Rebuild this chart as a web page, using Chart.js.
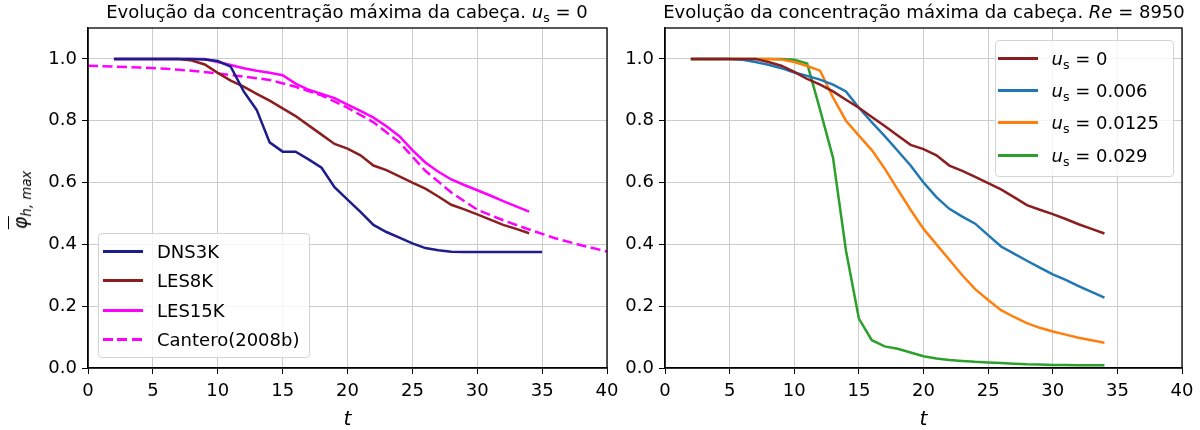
<!DOCTYPE html>
<html>
<head>
<meta charset="utf-8">
<script src="https://cdn.jsdelivr.net/npm/chart.js@4"></script>
<style>
  body { margin: 0; background: #fff; font-family: "DejaVu Sans", sans-serif; color: #000; }
  #wrap { position: relative; width: 1200px; height: 430px; overflow: hidden; }
  .pane { position: absolute; top: 0; height: 430px; }
  .title { position: absolute; top: 1px; font-size: 18px; line-height: 22px; white-space: nowrap; transform: translateX(-50%); }
  .legend { position: absolute; border: 1px solid #d4d4d4; border-radius: 4px; background: rgba(255,255,255,0.8); font-size: 18px; }
  .legend .row { display: flex; align-items: center; white-space: nowrap; }
  .legend .sw { display: inline-block; width: 40px; height: 3px; margin-right: 14px; }
  sub { font-size: 70%; vertical-align: -0.3em; line-height: 0; }
  #ylab { position: absolute; left: 20px; top: 200px; font-size: 19px; white-space: nowrap; transform: translate(-50%, -50%) rotate(-90deg); }
</style>
</head>
<body>
<div id="wrap">
  <div class="pane" style="left:0;width:620px"><canvas id="left"></canvas></div>
  <div class="pane" style="left:620px;width:580px"><canvas id="right"></canvas></div>

  <div class="title" style="left:347px">Evolução da concentração máxima da cabeça. <i>u</i><sub>s</sub> = 0</div>
  <div class="title" style="left:924px">Evolução da concentração máxima da cabeça. <i>Re</i> = 8950</div>

  <div id="ylab"><i><span style="border-top:1.5px solid #000">φ</span><sub>h, max</sub></i></div>

  <div class="legend" style="left:98px;top:233px;padding:3px 10px 3px 4px">
    <div class="row" style="height:29.3px"><span class="sw" style="background:#1c1c8c"></span>DNS3K</div>
    <div class="row" style="height:29.3px"><span class="sw" style="background:#8b1f1f"></span>LES8K</div>
    <div class="row" style="height:29.3px"><span class="sw" style="background:#ff00ff"></span>LES15K</div>
    <div class="row" style="height:29.3px"><span class="sw" style="background:repeating-linear-gradient(to right,#ff00ff 0 10px,transparent 10px 14.5px)"></span>Cantero(2008b)</div>
  </div>

  <div class="legend" style="right:26px;top:40px;padding:1px 14px 5px 2px">
    <div class="row" style="height:32.3px"><span class="sw" style="background:#8b1f1f"></span><span><i>u</i><sub>s</sub> = 0</span></div>
    <div class="row" style="height:32.3px"><span class="sw" style="background:#1f77b4"></span><span><i>u</i><sub>s</sub> = 0.006</span></div>
    <div class="row" style="height:32.3px"><span class="sw" style="background:#ff7f0e"></span><span><i>u</i><sub>s</sub> = 0.0125</span></div>
    <div class="row" style="height:32.3px"><span class="sw" style="background:#2ca02c"></span><span><i>u</i><sub>s</sub> = 0.029</span></div>
  </div>
</div>

<script>
// tick labels
const xTicks = [0, 5, 10, 15, 20, 25, 30, 35, 40];
const yTicks = [0, 0.2, 0.4, 0.6, 0.8, 1.0];

// left panel, u_s = 0
const tDNS = [2,3,4,5,6,7,8,9,10,11,12,13,14,15,16,17,18,19,20,21,22,23,24,25,26,27,28,29,30,31,32,33,34,35];
const dns3k = [1.0,1.0,1.0,1.0,1.0,1.0,1.0,0.998,0.993,0.975,0.895,0.835,0.73,0.70,0.70,0.675,0.648,0.585,0.545,0.505,0.463,0.44,0.422,0.403,0.388,0.381,0.376,0.375,0.375,0.375,0.375,0.375,0.375,0.375];

const tLES = [2,3,4,5,6,7,8,9,10,11,12,13,14,15,16,17,18,19,20,21,22,23,24,25,26,27,28,29,30,31,32,33,34];
const les8k = [1.0,1.0,1.0,1.0,1.0,1.0,0.995,0.982,0.955,0.93,0.91,0.887,0.865,0.84,0.815,0.785,0.755,0.725,0.71,0.688,0.655,0.64,0.62,0.60,0.58,0.555,0.528,0.513,0.497,0.48,0.463,0.45,0.436];
const les15k = [1.0,1.0,1.0,1.0,1.0,1.0,1.0,1.0,0.99,0.98,0.97,0.962,0.955,0.947,0.92,0.90,0.887,0.873,0.852,0.832,0.81,0.782,0.75,0.705,0.665,0.635,0.61,0.592,0.575,0.558,0.54,0.523,0.506];

const tCantero = [0,2,4,6,8,10,12,14,16,18,20,22,24,26,28,30,32,34,36,38,40];
const cantero = [0.978,0.975,0.972,0.968,0.962,0.953,0.943,0.932,0.91,0.882,0.842,0.795,0.73,0.638,0.568,0.512,0.478,0.448,0.42,0.397,0.377];

// right panel, Re = 8950
const tRe = [2,3,4,5,6,7,8,9,10,11,12,13,14,15,16,17,18,19,20,21,22,23,24,25,26,27,28,29,30,31,32,33,34];
const us0 = [1.0,1.0,1.0,1.0,1.0,1.0,0.99,0.978,0.958,0.935,0.917,0.895,0.868,0.842,0.812,0.783,0.752,0.722,0.708,0.688,0.655,0.638,0.618,0.598,0.578,0.553,0.527,0.512,0.498,0.482,0.465,0.45,0.435];
const us006 = [1.0,1.0,1.0,1.0,0.997,0.99,0.981,0.97,0.956,0.945,0.933,0.917,0.895,0.842,0.795,0.75,0.703,0.655,0.60,0.553,0.515,0.49,0.467,0.43,0.393,0.37,0.347,0.325,0.303,0.285,0.265,0.246,0.228];
const us0125 = [1.0,1.0,1.0,1.0,1.0,1.0,1.0,0.998,0.99,0.977,0.962,0.875,0.80,0.752,0.705,0.645,0.578,0.512,0.45,0.40,0.35,0.30,0.255,0.22,0.187,0.165,0.145,0.13,0.118,0.108,0.098,0.09,0.082];
const us029 = [1.0,1.0,1.0,1.0,1.0,1.0,1.0,1.0,0.997,0.985,0.835,0.68,0.38,0.16,0.09,0.07,0.062,0.05,0.038,0.031,0.026,0.023,0.02,0.018,0.016,0.014,0.012,0.011,0.01,0.01,0.009,0.009,0.009];

Chart.defaults.font.family = "'DejaVu Sans', sans-serif";
Chart.defaults.color = '#000';

function pts(xs, ys) {
  return ys.map((y, i) => ({ x: xs[i], y: y }));
}

function line(label, xs, ys, color, dash) {
  return {
    label: label,
    data: pts(xs, ys),
    borderColor: color,
    backgroundColor: color,
    borderWidth: 2.5,
    borderDash: dash || [],
    pointRadius: 0,
    tension: 0,
    fill: false
  };
}

// black box around the plot area like matplotlib spines
const frame = {
  id: 'frame',
  afterDraw(chart) {
    const a = chart.chartArea;
    const ctx = chart.ctx;
    ctx.save();
    ctx.strokeStyle = '#000';
    ctx.lineWidth = 1.3;
    ctx.strokeRect(a.left, a.top, a.right - a.left, a.bottom - a.top);
    ctx.restore();
  }
};

function options(yWidth, padRight) {
  return {
    responsive: true,
    maintainAspectRatio: false,
    animation: false,
    layout: { padding: { left: 0, top: 28, right: padRight, bottom: 0 } },
    plugins: { legend: { display: false }, tooltip: { enabled: false } },
    scales: {
      x: {
        type: 'linear',
        min: 0,
        max: 40,
        afterBuildTicks: (s) => { s.ticks = xTicks.map(v => ({ value: v })); },
        afterFit: (s) => { s.height = 62; s.paddingLeft = 0; s.paddingRight = 0; },
        ticks: { font: { size: 18 }, padding: 7, callback: (v) => String(v) },
        grid: { color: '#cccccc', lineWidth: 1, tickColor: '#000', tickLength: 6 },
        border: { color: '#000', width: 1.3 },
        title: { display: true, text: 't', font: { size: 20, style: 'italic' }, padding: { top: 0, bottom: -2 } }
      },
      y: {
        min: 0,
        max: 1.1,
        afterBuildTicks: (s) => { s.ticks = yTicks.map(v => ({ value: v })); },
        afterFit: (s) => { s.width = yWidth; s.paddingTop = 0; s.paddingBottom = 0; },
        ticks: { font: { size: 18 }, padding: 5, callback: (v) => v.toFixed(1) },
        grid: { color: '#cccccc', lineWidth: 1, tickColor: '#000', tickLength: 6 },
        border: { color: '#000', width: 1.3 }
      }
    }
  };
}

new Chart(document.getElementById('left'), {
  type: 'line',
  data: {
    datasets: [
      line('DNS3K', tDNS, dns3k, '#1c1c8c'),
      line('LES8K', tLES, les8k, '#8b1f1f'),
      line('LES15K', tLES, les15k, '#ff00ff'),
      line('Cantero(2008b)', tCantero, cantero, '#ff00ff', [10, 4.5])
    ]
  },
  options: options(88, 13),
  plugins: [frame]
});

new Chart(document.getElementById('right'), {
  type: 'line',
  data: {
    datasets: [
      line('u_s = 0', tRe, us0, '#8b1f1f'),
      line('u_s = 0.006', tRe, us006, '#1f77b4'),
      line('u_s = 0.0125', tRe, us0125, '#ff7f0e'),
      line('u_s = 0.029', tRe, us029, '#2ca02c')
    ]
  },
  options: options(45, 18),
  plugins: [frame]
});
</script>
</body>
</html>
